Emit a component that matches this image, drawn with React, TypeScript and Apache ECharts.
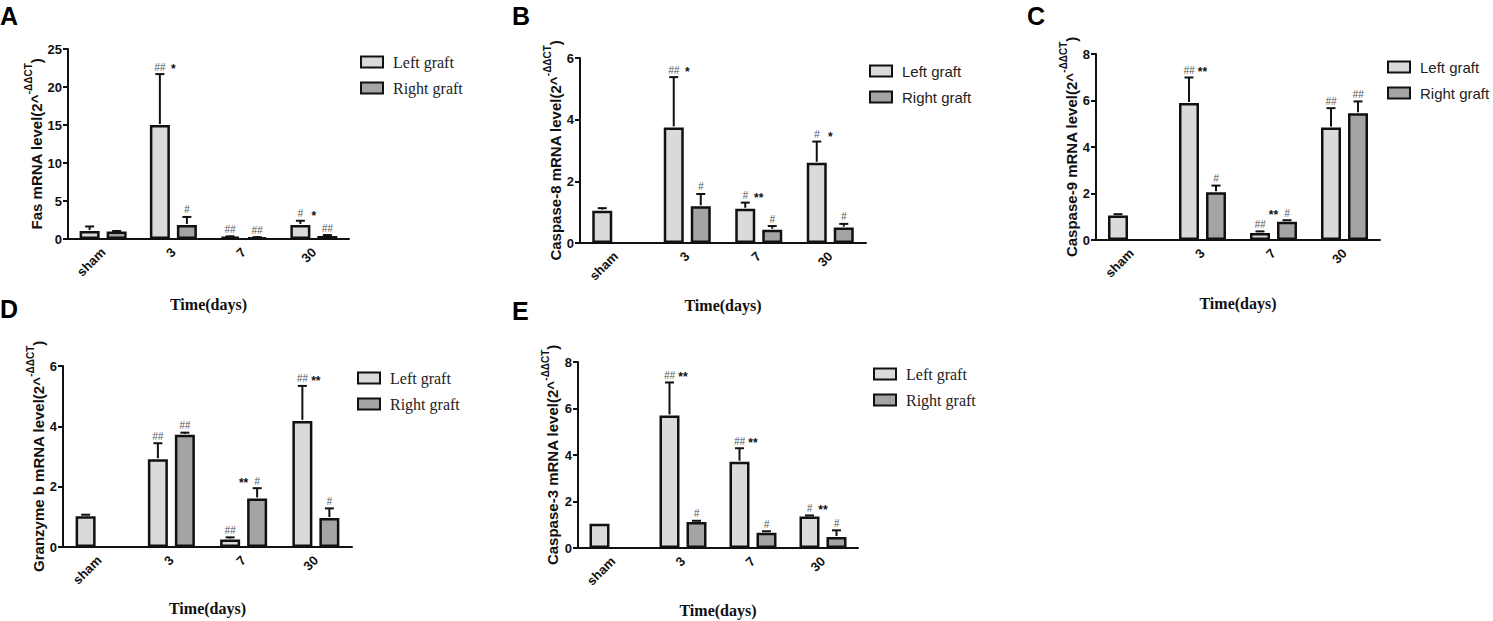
import React, { useEffect, useRef } from "react";
import * as echarts from "echarts";

const categories = ["sham", "3", "7", "30"];

// Panel A: Fas
const fasLeft = [1.05, 15.0, 0.3, 1.85];
const fasLeftSd = [0.6, 6.7, 0.05, 0.55];
const fasRight = [1.0, 1.85, 0.2, 0.4];
const fasRightSd = [0.05, 1.05, 0.05, 0.12];
const fasHashLeft = ["", "##", "##", "#"];
const fasHashRight = ["", "#", "##", "##"];
const fasStars = ["", "*", "", "*"];

// Panel B: Caspase-8
const c8Left = [1.05, 3.75, 1.11, 2.6];
const c8LeftSd = [0.08, 1.63, 0.2, 0.69];
const c8Right = [null, 1.19, 0.43, 0.5];
const c8RightSd = [null, 0.4, 0.12, 0.12];
const c8HashLeft = ["", "##", "#", "#"];
const c8HashRight = ["", "#", "#", "#"];
const c8Stars = ["", "*", "**", "*"];

// Panel C: Caspase-9
const c9Left = [1.05, 5.89, 0.3, 4.84];
const c9LeftSd = [0.06, 1.1, 0.07, 0.83];
const c9Right = [null, 2.05, 0.79, 5.45];
const c9RightSd = [null, 0.29, 0.06, 0.51];
const c9HashLeft = ["", "##", "##", "##"];
const c9HashRight = ["", "#", "#", "##"];
const c9Stars = ["", "**", "**", ""];

// Panel D: Granzyme b
const gzLeft = [1.02, 2.91, 0.25, 4.18];
const gzLeftSd = [0.05, 0.53, 0.07, 1.16];
const gzRight = [null, 3.72, 1.61, 0.96];
const gzRightSd = [null, 0.07, 0.34, 0.32];
const gzHashLeft = ["", "##", "##", "##"];
const gzHashRight = ["", "##", "#", "#"];
const gzStars = ["", "", "**", "**"];

// Panel E: Caspase-3
const c3Left = [1.04, 5.7, 3.71, 1.35];
const c3LeftSd = [0, 1.42, 0.58, 0.05];
const c3Right = [null, 1.12, 0.66, 0.47];
const c3RightSd = [null, 0.05, 0.06, 0.29];
const c3HashLeft = ["", "##", "##", "#"];
const c3HashRight = ["", "#", "#", "#"];
const c3Stars = ["", "**", "**", "**"];

const seriesNames = ["Left graft", "Right graft"];
const panelLetters = ["A", "B", "C", "D", "E"];
const yTitles = ["Fas", "Caspase-8", "Caspase-9", "Granzyme b", "Caspase-3"];
const yMax = [25, 6, 8, 6, 8];
const yInterval = [5, 2, 2, 2, 2];

const SANS = "Liberation Sans, Arial, sans-serif";
const SERIF = "Liberation Serif, Times New Roman, serif";
const INK = "#111";
const LEFT_COLOR = "#d9dad9";
const RIGHT_COLOR = "#a3a4a6";

const panelData = [
  { left: fasLeft, leftSd: fasLeftSd, right: fasRight, rightSd: fasRightSd, hl: fasHashLeft, hr: fasHashRight, st: fasStars },
  { left: c8Left, leftSd: c8LeftSd, right: c8Right, rightSd: c8RightSd, hl: c8HashLeft, hr: c8HashRight, st: c8Stars },
  { left: c9Left, leftSd: c9LeftSd, right: c9Right, rightSd: c9RightSd, hl: c9HashLeft, hr: c9HashRight, st: c9Stars },
  { left: gzLeft, leftSd: gzLeftSd, right: gzRight, rightSd: gzRightSd, hl: gzHashLeft, hr: gzHashRight, st: gzStars },
  { left: c3Left, leftSd: c3LeftSd, right: c3Right, rightSd: c3RightSd, hl: c3HashLeft, hr: c3HashRight, st: c3Stars },
];

// layout (pixels)
const grids = [
  { left: 68, top: 49, width: 281, height: 190 },
  { left: 580, top: 58, width: 286, height: 185 },
  { left: 1096, top: 54, width: 284, height: 186 },
  { left: 63, top: 366, width: 289, height: 181 },
  { left: 578, top: 362, width: 280, height: 186 },
];
const yNameGaps = [24, 16, 16, 14, 18];
const xNameGaps = [57, 54, 55, 53, 54];
const legendPos = [
  { left: 360, top: 54, font: SERIF, size: 16 },
  { left: 869, top: 63, font: SANS, size: 15 },
  { left: 1387, top: 59, font: SANS, size: 15 },
  { left: 357, top: 370, font: SERIF, size: 16 },
  { left: 873, top: 366, font: SERIF, size: 16 },
];
const letterPos = [
  { x: 0, y: 3 },
  { x: 512, y: 3 },
  { x: 1027, y: 3 },
  { x: 0, y: 296 },
  { x: 512, y: 298 },
];

const BAR_W = 20;
const BAR_GAP = 7;
const OFFSET = (BAR_W + BAR_GAP) / 2;

function buildOption() {
  const grid: any[] = [];
  const xAxis: any[] = [];
  const yAxis: any[] = [];
  const series: any[] = [];
  const legend: any[] = [];
  const graphic: any[] = [];

  panelData.forEach((p, k) => {
    grid.push({ ...grids[k], containLabel: false });
    xAxis.push({
      type: "category",
      gridIndex: k,
      data: categories,
      axisLine: { lineStyle: { color: INK, width: 2 } },
      axisTick: { alignWithLabel: true, length: 5, lineStyle: { color: INK, width: 2 } },
      axisLabel: { rotate: 45, fontSize: 13, fontWeight: "bold", fontFamily: SANS, color: INK, margin: 11 },
      name: "Time(days)",
      nameLocation: "middle",
      nameGap: xNameGaps[k],
      nameTextStyle: { fontFamily: SERIF, fontWeight: "bold", fontSize: 16, color: INK },
    });
    yAxis.push({
      type: "value",
      gridIndex: k,
      min: 0,
      max: yMax[k],
      interval: yInterval[k],
      axisLine: { show: true, lineStyle: { color: INK, width: 2 } },
      axisTick: { show: true, length: 5, lineStyle: { color: INK, width: 2 } },
      splitLine: { show: false },
      axisLabel: { fontSize: 13, fontWeight: "bold", fontFamily: SANS, color: INK, margin: 6 },
      name: `{m|${yTitles[k]} mRNA level(2^}{s|-ΔΔCT}{m|)}`,
      nameLocation: "middle",
      nameRotate: 90,
      nameGap: yNameGaps[k],
      nameTextStyle: {
        rich: {
          m: { fontSize: 15, fontWeight: "bold", fontFamily: SANS, color: INK, lineHeight: 20, verticalAlign: "bottom" },
          s: { fontSize: 10, fontWeight: "bold", fontFamily: SANS, color: INK, lineHeight: 10, verticalAlign: "top" },
        },
      },
    });

    series.push({
      type: "bar",
      name: seriesNames[0],
      xAxisIndex: k,
      yAxisIndex: k,
      data: p.left,
      barWidth: BAR_W,
      barGap: `${(BAR_GAP / BAR_W) * 100}%`,
      itemStyle: { color: LEFT_COLOR, borderColor: INK, borderWidth: 2.5 },
      z: 2,
    });
    series.push({
      type: "bar",
      name: seriesNames[1],
      xAxisIndex: k,
      yAxisIndex: k,
      data: p.right.map((v) => (v == null ? "-" : v)),
      barWidth: BAR_W,
      barGap: `${(BAR_GAP / BAR_W) * 100}%`,
      itemStyle: { color: RIGHT_COLOR, borderColor: INK, borderWidth: 2.5 },
      z: 2,
    });

    // error bars
    const errData: any[] = [];
    categories.forEach((_, i) => {
      if (p.left[i] != null && (p.leftSd[i] as number) > 0) errData.push([i, p.left[i], (p.left[i] as number) + (p.leftSd[i] as number), -1]);
      if (p.right[i] != null && (p.rightSd[i] as number) > 0) errData.push([i, p.right[i], (p.right[i] as number) + (p.rightSd[i] as number), 1]);
    });
    series.push({
      type: "custom",
      xAxisIndex: k,
      yAxisIndex: k,
      data: errData,
      encode: { x: 0, y: [1, 2] },
      z: 3,
      silent: true,
      renderItem: (params: any, api: any) => {
        const i = api.value(0);
        const side = api.value(3);
        const p0 = api.coord([i, api.value(1)]);
        const p1 = api.coord([i, api.value(2)]);
        const x = p0[0] + side * OFFSET;
        return {
          type: "group",
          children: [
            { type: "line", shape: { x1: x, y1: p0[1] - 1, x2: x, y2: p1[1] }, style: { stroke: INK, lineWidth: 2 } },
            { type: "line", shape: { x1: x - 4.5, y1: p1[1], x2: x + 4.5, y2: p1[1] }, style: { stroke: INK, lineWidth: 2 } },
          ],
        };
      },
    });

    // annotations
    const annData: any[] = [];
    const annText: string[] = [];
    const annKind: string[] = [];
    categories.forEach((_, i) => {
      const tl = p.left[i] != null ? (p.left[i] as number) + ((p.leftSd[i] as number) || 0) : null;
      const tr = p.right[i] != null ? (p.right[i] as number) + ((p.rightSd[i] as number) || 0) : null;
      if (p.hl[i]) {
        annData.push([i, tl, -1]);
        annText.push(p.hl[i]);
        annKind.push("hash");
      }
      if (p.hr[i]) {
        annData.push([i, tr, 1]);
        annText.push(p.hr[i]);
        annKind.push("hash");
      }
      if (p.st[i]) {
        const top = Math.max(tl ?? 0, tr ?? 0);
        annData.push([i, top, 0]);
        annText.push(p.st[i]);
        annKind.push("star");
      }
    });
    series.push({
      type: "custom",
      xAxisIndex: k,
      yAxisIndex: k,
      data: annData,
      encode: { x: 0, y: 1 },
      z: 4,
      silent: true,
      renderItem: (params: any, api: any) => {
        const idx = params.dataIndex;
        const i = api.value(0);
        const side = api.value(2);
        const pt = api.coord([i, api.value(1)]);
        const isStar = annKind[idx] === "star";
        return {
          type: "text",
          x: pt[0] + side * OFFSET,
          y: isStar ? pt[1] + 1 : pt[1] - 2,
          style: {
            text: annText[idx],
            fill: isStar ? INK : "#555",
            font: isStar ? `bold 12px ${SANS}` : `italic 10px ${SANS}`,
            align: "center",
            verticalAlign: "bottom",
          },
        };
      },
    });

    legend.push({
      data: seriesNames,
      orient: "vertical",
      left: legendPos[k].left,
      top: legendPos[k].top,
      padding: 0,
      itemWidth: 22,
      itemHeight: 11,
      itemGap: 10,
      icon: "rect",
      selectedMode: false,
      itemStyle: { borderColor: INK, borderWidth: 2 },
      textStyle: {
        fontFamily: legendPos[k].font,
        fontSize: legendPos[k].size,
        color: "#222",
        lineHeight: 16,
        padding: [0, 0, 0, 5],
      },
    });

    graphic.push({
      type: "text",
      left: letterPos[k].x,
      top: letterPos[k].y,
      style: { text: panelLetters[k], font: `bold 25px ${SANS}`, fill: "#000" },
    });
  });

  return { animation: false, backgroundColor: "#fff", grid, xAxis, yAxis, series, legend, graphic };
}

export default function App() {
  const ref = useRef<HTMLDivElement>(null);
  useEffect(() => {
    document.body.style.margin = "0";
    const chart = echarts.init(ref.current as HTMLDivElement, null, { renderer: "svg" });
    chart.setOption(buildOption() as any);
    return () => chart.dispose();
  }, []);
  return <div ref={ref} style={{ width: 1493, height: 621 }} />;
}
